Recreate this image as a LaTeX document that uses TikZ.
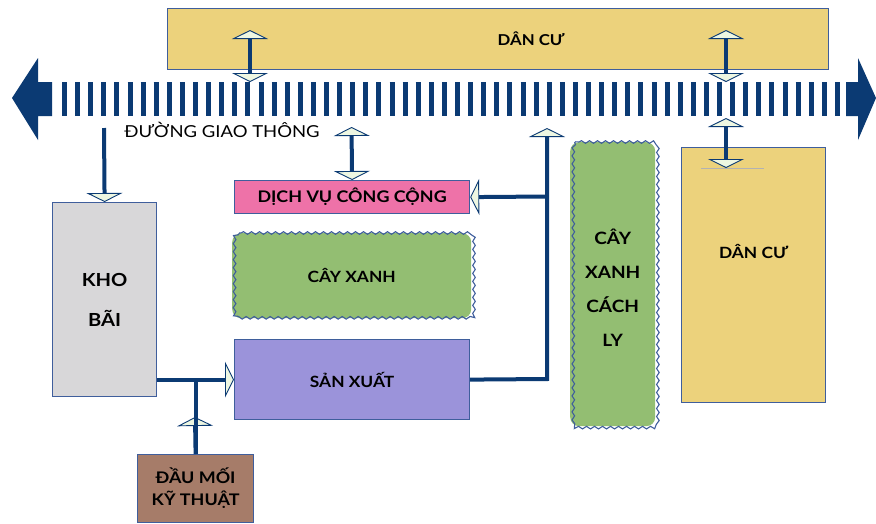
\documentclass[tikz,border=0pt]{standalone}
\usepackage{fontspec}
\setmainfont{Lato}[FakeStretch=1.12]
\usetikzlibrary{arrows.meta,decorations.pathmorphing,calc}
\definecolor{navy}{HTML}{0B3A73}
\definecolor{boxline}{HTML}{3F5E9C}
\definecolor{yel}{HTML}{ECD27C}
\definecolor{pink}{HTML}{EE72A8}
\definecolor{greybox}{HTML}{D8D7D9}
\definecolor{greenbox}{HTML}{93BE72}
\definecolor{purp}{HTML}{9B93DA}
\definecolor{brown}{HTML}{A67C69}
\definecolor{headfill}{HTML}{EEF7E2}
\tikzset{
  box/.style={draw=boxline, line width=1.2pt, anchor=north west, inner sep=0pt,
    font=\bfseries\fontsize{15.5}{19}\selectfont, align=center},
  cloudfill/.style={anchor=north west, inner sep=0pt, fill=greenbox, rounded corners=9pt,
    font=\bfseries\fontsize{15.5}{19}\selectfont, align=center},
  cloudedge/.style={draw=boxline, line width=1.1pt, decorate,
    decoration={snake, segment length=8pt, amplitude=1.3pt}},
  conn/.style={draw=navy, line width=4pt},
  tipx/.tip={Triangle[width=36pt,length=9pt,fill=headfill,line width=0.9pt]},
  hd/.style={-tipx},
  dhd/.style={tipx-tipx},
  roadfill/.style={fill=navy, draw=none}
}
\newcommand\drawcloudedge[1]{%
  \draw[cloudedge] ($(#1.north west)+(9,0)$) -- ($(#1.north east)+(-9,0)$)
    .. controls (#1.north east) .. ($(#1.north east)+(0,9)$)
    -- ($(#1.south east)+(0,-9)$)
    .. controls (#1.south east) .. ($(#1.south east)+(-9,0)$)
    -- ($(#1.south west)+(9,0)$)
    .. controls (#1.south west) .. ($(#1.south west)+(0,-9)$)
    -- ($(#1.north west)+(0,9)$)
    .. controls (#1.north west) .. ($(#1.north west)+(9,0)$);}
\begin{document}
\begin{tikzpicture}[x=1pt,y=-1pt]
\useasboundingbox (0,0) rectangle (876,523);
% road
\draw[navy, line width=34pt, dash pattern=on 5pt off 8.1pt] (62,99) -- (840,99);
\coordinate (roadL) at (12,98);
\coordinate (roadR) at (876,98);
\fill[roadfill] (roadL) -- (38,58) -- (38,82) -- (52,82) -- (52,116) -- (38,116) -- (38,140) -- cycle;
\fill[roadfill] (roadR) -- (858,58) -- (858,82) -- (846,82) -- (846,116) -- (858,116) -- (858,140) -- cycle;
\node[font=\fontsize{16.5}{18}\selectfont, anchor=center] (roadlabel) at (222,130) {ĐƯỜNG GIAO THÔNG};

% boxes
\node[box, fill=yel, minimum width=661pt, minimum height=61pt,
  label={[font=\bfseries\fontsize{15}{18}\selectfont, xshift=33pt]center:DÂN CƯ}] (dantop) at (167,8) {};
\node[box, fill=yel, minimum width=144pt, minimum height=255pt,
  label={[font=\bfseries\fontsize{15.5}{19}\selectfont, yshift=24pt]center:DÂN CƯ}] (danright) at (681,147) {};
\draw[gray!60, line width=0.5pt] (701,168.5) -- (764,168.5);
\node[box, fill=pink, minimum width=235pt, minimum height=33pt,
  font=\bfseries\fontsize{16}{18}\selectfont] (dich) at (234,180) {DỊCH VỤ CÔNG CỘNG};
\node[box, fill=greybox, minimum width=104pt, minimum height=194pt,
  font=\bfseries\fontsize{18}{22}\selectfont] (kho) at (52,202) {KHO\\[18pt]BÃI};
\node[cloudfill, minimum width=239pt, minimum height=85pt] (cayxanh) at (232,233) {CÂY XANH};
\drawcloudedge{cayxanh}
\node[box, fill=purp, minimum width=235pt, minimum height=80pt] (sx) at (234,339) {SẢN XUẤT};
\node[box, fill=brown, minimum width=116pt, minimum height=68pt,
  font=\bfseries\fontsize{16}{22}\selectfont] (dau) at (137,454) {ĐẦU MỐI\\KỸ THUẬT};
\node[cloudfill, minimum width=85pt, minimum height=284pt,
  label={[font=\bfseries\fontsize{17}{19}\selectfont, align=center, yshift=-4pt]center:CÂY\\[15pt]XANH\\[15pt]CÁCH\\[15pt]LY}] (cachly) at (570,142) {};
\drawcloudedge{cachly}

% connector coordinates
\coordinate (a1t) at (250,30);
\coordinate (a1b) at (250,82);
\coordinate (a2t) at (726,30);
\coordinate (a2b) at (726,82);
\coordinate (a3t) at (726,118);
\coordinate (a3b) at (726,168);
\coordinate (khotop) at (104,128);
\coordinate (dichtop) at (351.5,127);
\coordinate (sxcorner) at (547,379);
\coordinate (sxtop) at (547,128);
\coordinate (sxbranch) at (547,196.5);
\coordinate (daumid) at (195,417);

% connectors
\draw[conn, dhd] (a1t) -- (a1b);
\draw[conn, dhd] (a2t) -- (a2b);
\draw[conn, dhd] (a3t) -- (a3b);
\draw[conn, hd] (khotop) -- (kho.north);
\draw[conn, dhd] (dichtop) -- (dich.north);
\draw[conn, hd] (kho.east |- sx.west) -- (sx.west);
\draw[conn, hd] (dau.north) -- (daumid);
\draw[conn] (dau.north) -- (dau.north |- sx.west);
\draw[conn, hd, line join=miter] (sx.east) -- (sxcorner) -- (sxtop);
\draw[conn, hd] (sxbranch) -- (dich.east);
\end{tikzpicture}
\end{document}
